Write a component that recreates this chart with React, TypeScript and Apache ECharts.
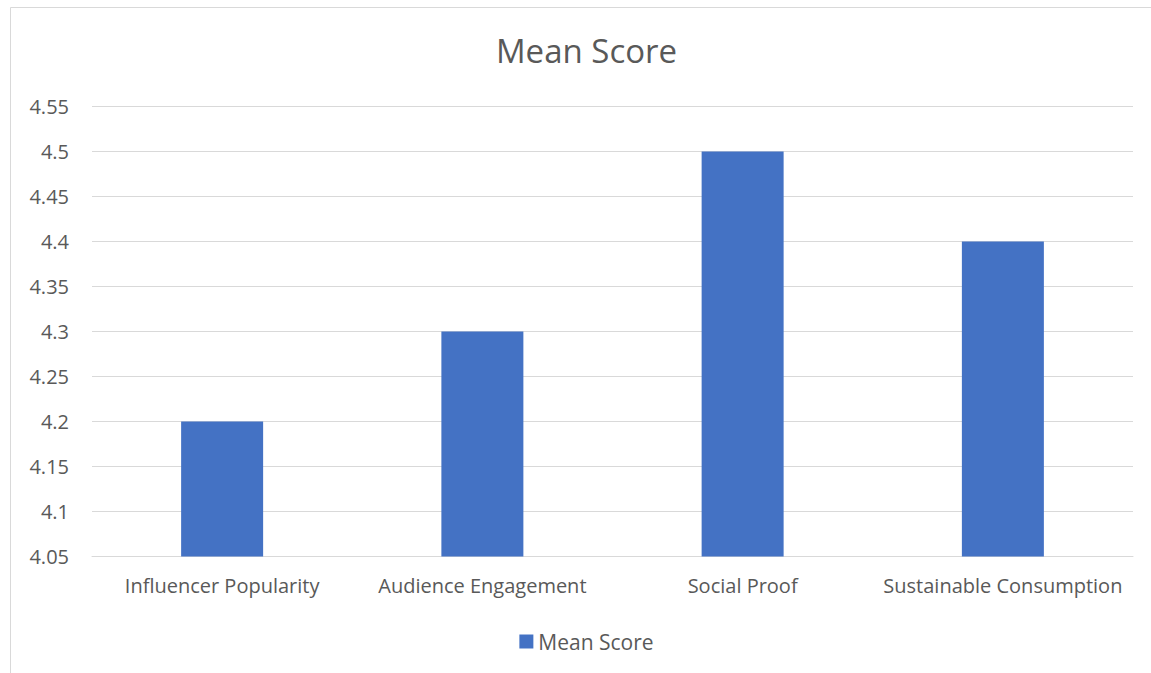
import React, { useEffect, useRef } from "react";
import * as echarts from "echarts";

const categories = ["Influencer Popularity", "Audience Engagement", "Social Proof", "Sustainable Consumption"];
const meanScores = [4.2, 4.3, 4.5, 4.4];
const seriesName = "Mean Score";
const titleText = "Mean Score";

export default function App() {
  const ref = useRef<HTMLDivElement>(null);
  useEffect(() => {
    if (!ref.current) return;
    const chart = echarts.init(ref.current, null, { renderer: "svg" });
    const font = "'Open Sans', 'Noto Sans', sans-serif";
    chart.setOption({
      animation: false,
      textStyle: { fontFamily: font },
      title: {
        text: titleText,
        left: "center",
        top: 29,
        textStyle: { color: "#595959", fontSize: 33, fontWeight: "normal", fontFamily: font },
      },
      graphic: [
        {
          type: "rect",
          shape: { x: 10.5, y: 7.5, width: 1200, height: 700 },
          style: { fill: "none", stroke: "#d9d9d9", lineWidth: 1 },
          silent: true,
          z: -1,
        },
      ],
      legend: {
        data: [seriesName],
        left: "center",
        top: 626,
        icon: "rect",
        itemWidth: 14,
        itemHeight: 14,
        itemGap: 6,
        textStyle: { color: "#595959", fontSize: 21, fontFamily: font },
      },
      grid: { left: 92, right: 40, top: 106.5, bottom: 116.5, containLabel: false },
      xAxis: {
        type: "category",
        data: categories,
        axisLine: { show: true, lineStyle: { color: "#d9d9d9", width: 1 } },
        axisTick: { show: false },
        axisLabel: { color: "#595959", fontSize: 20, margin: 19, fontFamily: font, interval: 0 },
      },
      yAxis: {
        type: "value",
        min: 4.05,
        max: 4.55,
        interval: 0.05,
        axisLine: { show: false },
        axisTick: { show: false },
        axisLabel: {
          color: "#595959",
          fontSize: 20,
          margin: 23,
          fontFamily: font,
          formatter: (v: number) => String(parseFloat(v.toFixed(2))),
        },
        splitLine: { lineStyle: { color: "#d9d9d9", width: 1 } },
      },
      series: [
        {
          name: seriesName,
          type: "bar",
          data: meanScores,
          barWidth: 82,
          itemStyle: { color: "#4472C4" },
        },
      ],
    });
    return () => chart.dispose();
  }, []);
  return (
    <div
      ref={ref}
      style={{ position: "fixed", left: 0, top: 0, width: 1173, height: 673, background: "#fff" }}
    />
  );
}
